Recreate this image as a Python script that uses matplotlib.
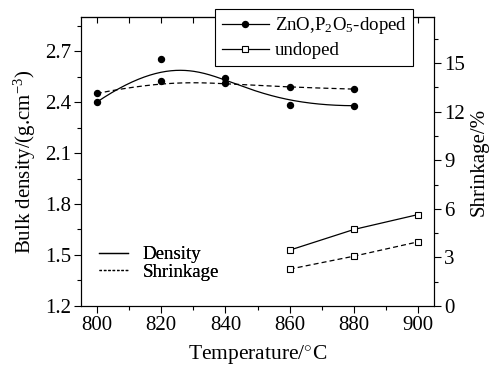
import numpy as np
import matplotlib
matplotlib.use('Agg')
import matplotlib.pyplot as plt
from matplotlib.lines import Line2D
from matplotlib.ticker import MultipleLocator, FormatStrFormatter

plt.rcParams['font.family'] = 'Liberation Serif'
plt.rcParams['mathtext.fontset'] = 'custom'
plt.rcParams['mathtext.rm'] = 'Liberation Serif'
plt.rcParams['mathtext.it'] = 'Liberation Serif:italic'
plt.rcParams['axes.linewidth'] = 0.8

# doped samples
temp_doped = [800, 820, 840, 860, 880]
density_doped = [2.40, 2.655, 2.541, 2.381, 2.379]
shrink_doped = [13.13, 13.91, 13.75, 13.51, 13.40]

# undoped samples
temp_undoped = [860, 880, 900]
density_undoped = [1.528, 1.65, 1.738]
shrink_undoped = [2.27, 3.07, 3.96]


def bspline(xs, ys, n=200, k=3):
    # clamped B-spline using the data points as control points
    P = np.column_stack([xs, ys]).astype(float)
    m = len(P)
    knots = np.concatenate([np.zeros(k), np.linspace(0, 1, m - k + 1), np.ones(k)])
    u = np.linspace(0, 1, n)
    u[-1] -= 1e-9
    N = np.zeros((n, len(knots) - 1))
    for i in range(len(knots) - 1):
        N[:, i] = (u >= knots[i]) & (u < knots[i + 1])
    for d in range(1, k + 1):
        Nn = np.zeros((n, len(knots) - 1 - d))
        for i in range(len(knots) - 1 - d):
            a = knots[i + d] - knots[i]
            b = knots[i + d + 1] - knots[i + 1]
            t1 = (u - knots[i]) / a * N[:, i] if a > 0 else 0
            t2 = (knots[i + d + 1] - u) / b * N[:, i + 1] if b > 0 else 0
            Nn[:, i] = t1 + t2
        N = Nn
    C = N @ P
    return C[:, 0], C[:, 1]


fig = plt.figure(figsize=(4.92, 3.68), dpi=100)
ax = fig.add_axes([0.164, 0.169, 0.719, 0.784])
ax2 = ax.twinx()

dx, dy = bspline(temp_doped, density_doped)
sx, sy = bspline(temp_doped, shrink_doped)

ax.plot(dx, dy, color='black', lw=0.9)
ax.plot(temp_doped, density_doped, 'o', color='black', ms=4.3)
ax2.plot(sx, sy, color='black', lw=0.9, ls=(0, (4, 2.5)))
ax2.plot(temp_doped, shrink_doped, 'o', color='black', ms=4.3)

ax.plot(temp_undoped, density_undoped, '-s', color='black', lw=0.9,
        ms=4, mfc='white', mew=0.8)
ax2.plot(temp_undoped, shrink_undoped, 's', color='black', ls=(0, (4, 2.5)),
         lw=0.9, ms=4, mfc='white', mew=0.8)

ax.set_xlim(795, 905)
ax.set_ylim(1.2, 2.9)
ax2.set_ylim(0, 17.84)

ax.xaxis.set_major_locator(MultipleLocator(20))
ax.xaxis.set_minor_locator(MultipleLocator(10))
ax.yaxis.set_major_locator(MultipleLocator(0.3))
ax.yaxis.set_minor_locator(MultipleLocator(0.15))
ax2.yaxis.set_major_locator(MultipleLocator(3))
ax2.yaxis.set_minor_locator(MultipleLocator(1.5))
ax.yaxis.set_major_formatter(FormatStrFormatter('%.1f'))

for a in (ax, ax2):
    a.tick_params(which='both', direction='out', labelsize=15, width=0.8, pad=2)
    a.tick_params(which='major', length=5)
    a.tick_params(which='minor', length=3)

top = ax.secondary_xaxis('top')
top.xaxis.set_major_locator(MultipleLocator(20))
top.xaxis.set_minor_locator(MultipleLocator(10))
top.tick_params(which='both', direction='in', labeltop=False, length=4, width=0.8)

ax.set_xlabel('Temperature/$^{\\circ}$C', fontsize=15.5, labelpad=6)
ax.set_ylabel('Bulk density/(g.cm$^{-3}$)', fontsize=15, labelpad=5)
ax2.set_ylabel('Shrinkage/%', fontsize=15, labelpad=3)

h1 = Line2D([], [], color='black', marker='o', ms=4.3, lw=0.9)
h2 = Line2D([], [], color='black', marker='s', ms=4, mfc='white', mew=0.8, lw=0.9)
leg1 = ax2.legend([h1, h2], ['ZnO,P$_2$O$_5$-doped', 'undoped'],
                  loc='upper right', bbox_to_anchor=(0.94, 1.03),
                  fontsize=13.6, frameon=True, fancybox=False,
                  edgecolor='black', framealpha=1, handlelength=2.5,
                  handletextpad=0.3, borderaxespad=0, borderpad=0.35,
                  labelspacing=0.3)
leg1.get_frame().set_linewidth(0.8)

h3 = Line2D([], [], color='black', lw=0.9)
h4 = Line2D([], [], color='black', lw=0.9, ls=(0, (2, 1.5)))
leg2 = ax.legend([h3, h4], ['Density', 'Shrinkage'], loc='center left',
                 bbox_to_anchor=(0.005, 0.147), frameon=False, fontsize=13.6,
                 handlelength=1.5, handletextpad=0.8, labelspacing=0.0)
ax.add_artist(leg2)

fig.savefig('out.png', dpi=100)
